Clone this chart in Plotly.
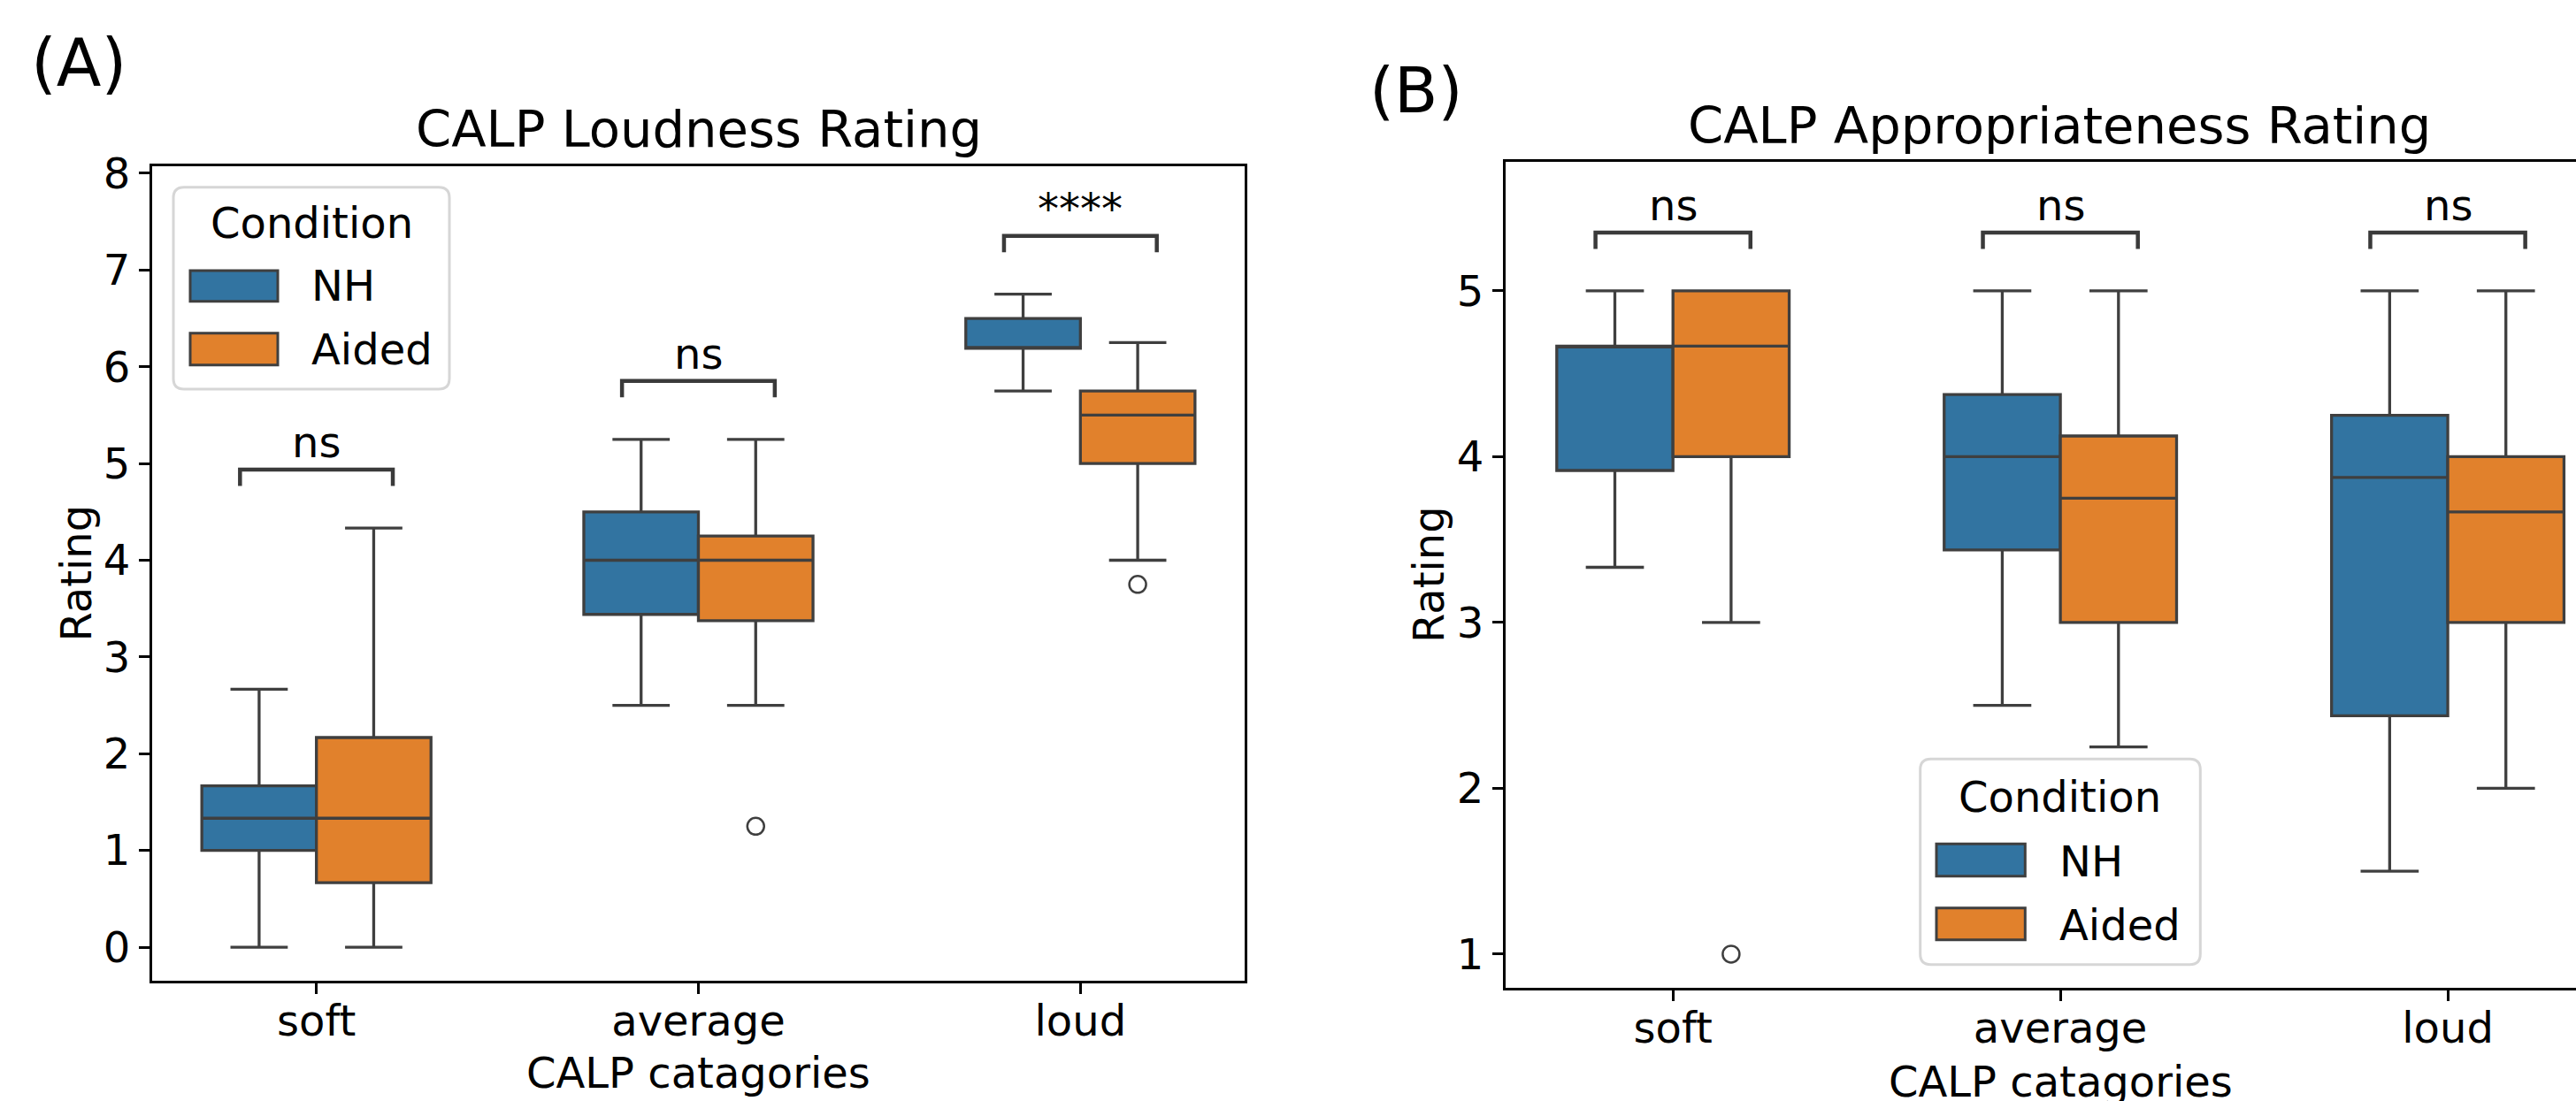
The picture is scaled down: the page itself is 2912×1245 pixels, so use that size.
import plotly.graph_objects as go

# ---------------- data ----------------
categories = ["soft", "average", "loud"]
conditions = ["NH", "Aided"]

# Panel A: CALP Loudness Rating (box statistics per category)
A_NH_lower = [0.0, 2.5, 5.75]
A_NH_q1 = [1.0, 3.44, 6.19]
A_NH_median = [1.333, 4.0, 6.19]
A_NH_q3 = [1.667, 4.5, 6.5]
A_NH_upper = [2.667, 5.25, 6.75]

A_Aided_lower = [0.0, 2.5, 4.0]
A_Aided_q1 = [0.667, 3.375, 5.0]
A_Aided_median = [1.333, 4.0, 5.5]
A_Aided_q3 = [2.167, 4.25, 5.75]
A_Aided_upper = [4.333, 5.25, 6.25]

A_Aided_outlier_cat = ["average", "loud"]
A_Aided_outlier_val = [1.25, 3.75]
A_significance = ["ns", "ns", "****"]

# Panel B: CALP Appropriateness Rating
B_NH_lower = [3.333, 2.5, 1.5]
B_NH_q1 = [3.917, 3.4375, 2.4375]
B_NH_median = [4.667, 4.0, 3.875]
B_NH_q3 = [4.667, 4.375, 4.25]
B_NH_upper = [5.0, 5.0, 5.0]

B_Aided_lower = [3.0, 2.25, 2.0]
B_Aided_q1 = [4.0, 3.0, 3.0]
B_Aided_median = [4.667, 3.75, 3.667]
B_Aided_q3 = [5.0, 4.125, 4.0]
B_Aided_upper = [5.0, 5.0, 5.0]

B_Aided_outlier_cat = ["soft"]
B_Aided_outlier_val = [1.0]
B_significance = ["ns", "ns", "ns"]

# ---------------- style ----------------
W, H = 2912, 1245
FONT = "DejaVu Sans"
COL = {"NH": "#3274a1", "Aided": "#e1812c"}
EDGE = "#3f3f3f"
BOX_OFF = 0.15
BOX_W = 0.3
BRK_OFF = 0.2


def fx(p):
    return p / W


def fy(p):
    return 1 - p / H


panels = {
    "A": dict(xa="x", ya="y", xdom=[fx(172), fx(1407)], ydom=[fy(1109), fy(188)],
              xr=[-0.43, 2.43], yr=[-0.347, 8.073], hpx=921.0,
              stats={"NH": (A_NH_lower, A_NH_q1, A_NH_median, A_NH_q3, A_NH_upper),
                     "Aided": (A_Aided_lower, A_Aided_q1, A_Aided_median, A_Aided_q3, A_Aided_upper)},
              out=(A_Aided_outlier_cat, A_Aided_outlier_val), sig=A_significance),
    "B": dict(xa="x2", ya="y2", xdom=[fx(1702), 1.0], ydom=[fy(1117), fy(182.7)],
              xr=[-0.432, 2.331], yr=[0.797, 5.78], hpx=934.3,
              stats={"NH": (B_NH_lower, B_NH_q1, B_NH_median, B_NH_q3, B_NH_upper),
                     "Aided": (B_Aided_lower, B_Aided_q1, B_Aided_median, B_Aided_q3, B_Aided_upper)},
              out=(B_Aided_outlier_cat, B_Aided_outlier_val), sig=B_significance),
}

fig = go.Figure()
annotations = []
shapes = []

for key, p in panels.items():
    upp = (p["yr"][1] - p["yr"][0]) / p["hpx"]  # data units per pixel
    for cond, off in zip(conditions, [-BOX_OFF, BOX_OFF]):
        lo, q1, med, q3, up = p["stats"][cond]
        fig.add_trace(go.Box(
            x=[i + off for i in range(len(categories))],
            lowerfence=lo, q1=q1, median=med, q3=q3, upperfence=up,
            width=BOX_W, whiskerwidth=0.5, boxpoints=False,
            fillcolor=COL[cond], line=dict(color=EDGE, width=3.3),
            name=cond, showlegend=False, hoverinfo="skip",
            xaxis=p["xa"], yaxis=p["ya"]))
    ocat, oval = p["out"]
    fig.add_trace(go.Scatter(
        x=[categories.index(c) + BOX_OFF for c in ocat], y=oval, mode="markers",
        marker=dict(symbol="circle-open", size=19, color=EDGE, line=dict(width=2.5, color=EDGE)),
        showlegend=False, hoverinfo="skip", xaxis=p["xa"], yaxis=p["ya"]))
    # significance brackets
    for i, s in enumerate(p["sig"]):
        top = max(p["stats"]["NH"][4][i], p["stats"]["Aided"][4][i]) + 66 * upp
        leg = top - 18.5 * upp
        fig.add_trace(go.Scatter(
            x=[i - BRK_OFF, i - BRK_OFF, i + BRK_OFF, i + BRK_OFF],
            y=[leg, top, top, leg], mode="lines",
            line=dict(color="#3a3a3a", width=4.5),
            showlegend=False, hoverinfo="skip", xaxis=p["xa"], yaxis=p["ya"]))
        annotations.append(dict(
            x=i, y=top, xref=p["xa"], yref=p["ya"], text=s, showarrow=False,
            xanchor="center", yanchor="middle", yshift=30.6,
            font=dict(family=FONT, size=48, color="black")))

# axes
axis_common = dict(showgrid=False, zeroline=False, showline=True, linecolor="black",
                   linewidth=3, ticks="outside", ticklen=12, tickwidth=3, tickcolor="black",
                   automargin=False,
                   tickfont=dict(family=FONT, size=48, color="black"))
pa, pb = panels["A"], panels["B"]
fig.update_layout(
    xaxis=dict(domain=pa["xdom"], range=pa["xr"], tickvals=[0, 1, 2], ticktext=categories,
               mirror=True, anchor="y", ticklabelstandoff=-11, **axis_common),
    yaxis=dict(domain=pa["ydom"], range=pa["yr"], tickvals=list(range(0, 9)),
               mirror=True, anchor="x", **axis_common),
    xaxis2=dict(domain=pb["xdom"], range=pb["xr"], tickvals=[0, 1, 2], ticktext=categories,
                mirror=True, anchor="y2", ticklabelstandoff=-11, **axis_common),
    yaxis2=dict(domain=pb["ydom"], range=pb["yr"], tickvals=[1, 2, 3, 4, 5],
                mirror=False, anchor="x2", **axis_common),
)


def text_ann(x, y, text, size, xanchor="center", angle=0):
    annotations.append(dict(x=fx(x), y=fy(y), xref="paper", yref="paper", text=text,
                            showarrow=False, xanchor=xanchor, yanchor="middle",
                            textangle=angle, font=dict(family=FONT, size=size, color="black")))


# titles, labels
text_ann(89, 71, "(A)", 74)
text_ann(1601, 102, "(B)", 72)
text_ann(789.5, 147, "CALP Loudness Rating", 57.6)
text_ann(2328, 142, "CALP Appropriateness Rating", 57.6)
text_ann(789.5, 1213.4, "CALP catagories", 48)
text_ann(2329, 1223.4, "CALP catagories", 48)
text_ann(85, 648.5, "Rating", 48, angle=-90)
text_ann(1615, 650, "Rating", 48, angle=-90)


# custom legends
def rounded_rect(x0, y0, x1, y1, r):
    X0, X1 = fx(x0), fx(x1)
    Y0, Y1 = fy(y0), fy(y1)
    rx, ry = r / W, r / H
    return (f"M {X0+rx},{Y0} L {X1-rx},{Y0} Q {X1},{Y0} {X1},{Y0-ry} "
            f"L {X1},{Y1+ry} Q {X1},{Y1} {X1-rx},{Y1} L {X0+rx},{Y1} "
            f"Q {X0},{Y1} {X0},{Y1+ry} L {X0},{Y0-ry} Q {X0},{Y0} {X0+rx},{Y0} Z")


def legend(box, title_xy, nh_patch, aided_patch, nh_text, aided_text):
    shapes.append(dict(type="path", path=rounded_rect(*box, 12), xref="paper", yref="paper",
                       fillcolor="rgba(255,255,255,0.8)", line=dict(color="#d6d6d6", width=3),
                       layer="above"))
    for (px0, py0, px1, py1), cond in [(nh_patch, "NH"), (aided_patch, "Aided")]:
        shapes.append(dict(type="rect", x0=fx(px0), x1=fx(px1), y0=fy(py0), y1=fy(py1),
                           xref="paper", yref="paper", fillcolor=COL[cond],
                           line=dict(color=EDGE, width=3), layer="above"))
    text_ann(title_xy[0], title_xy[1], "Condition", 48)
    text_ann(nh_text[0], nh_text[1], conditions[0], 48, xanchor="left")
    text_ann(aided_text[0], aided_text[1], conditions[1], 48, xanchor="left")


legend((196, 211.7, 508, 440), (352, 251.7), (215, 306, 314, 340.7), (215, 376.7, 314, 412.7),
       (350, 323.4), (350, 395))
legend((2170.7, 858.3, 2487.3, 1090.7), (2328.3, 901.4), (2189, 954.3, 2289.3, 990.7),
       (2189, 1026.7, 2289.3, 1062.7), (2326, 973.7), (2326, 1045.6))

fig.update_layout(
    width=W, height=H, margin=dict(l=0, r=0, t=0, b=0, autoexpand=False),
    paper_bgcolor="white", plot_bgcolor="white",
    boxmode="overlay", showlegend=False,
    annotations=annotations, shapes=shapes,
    font=dict(family=FONT, color="black"),
)

fig.write_html("out.html")
